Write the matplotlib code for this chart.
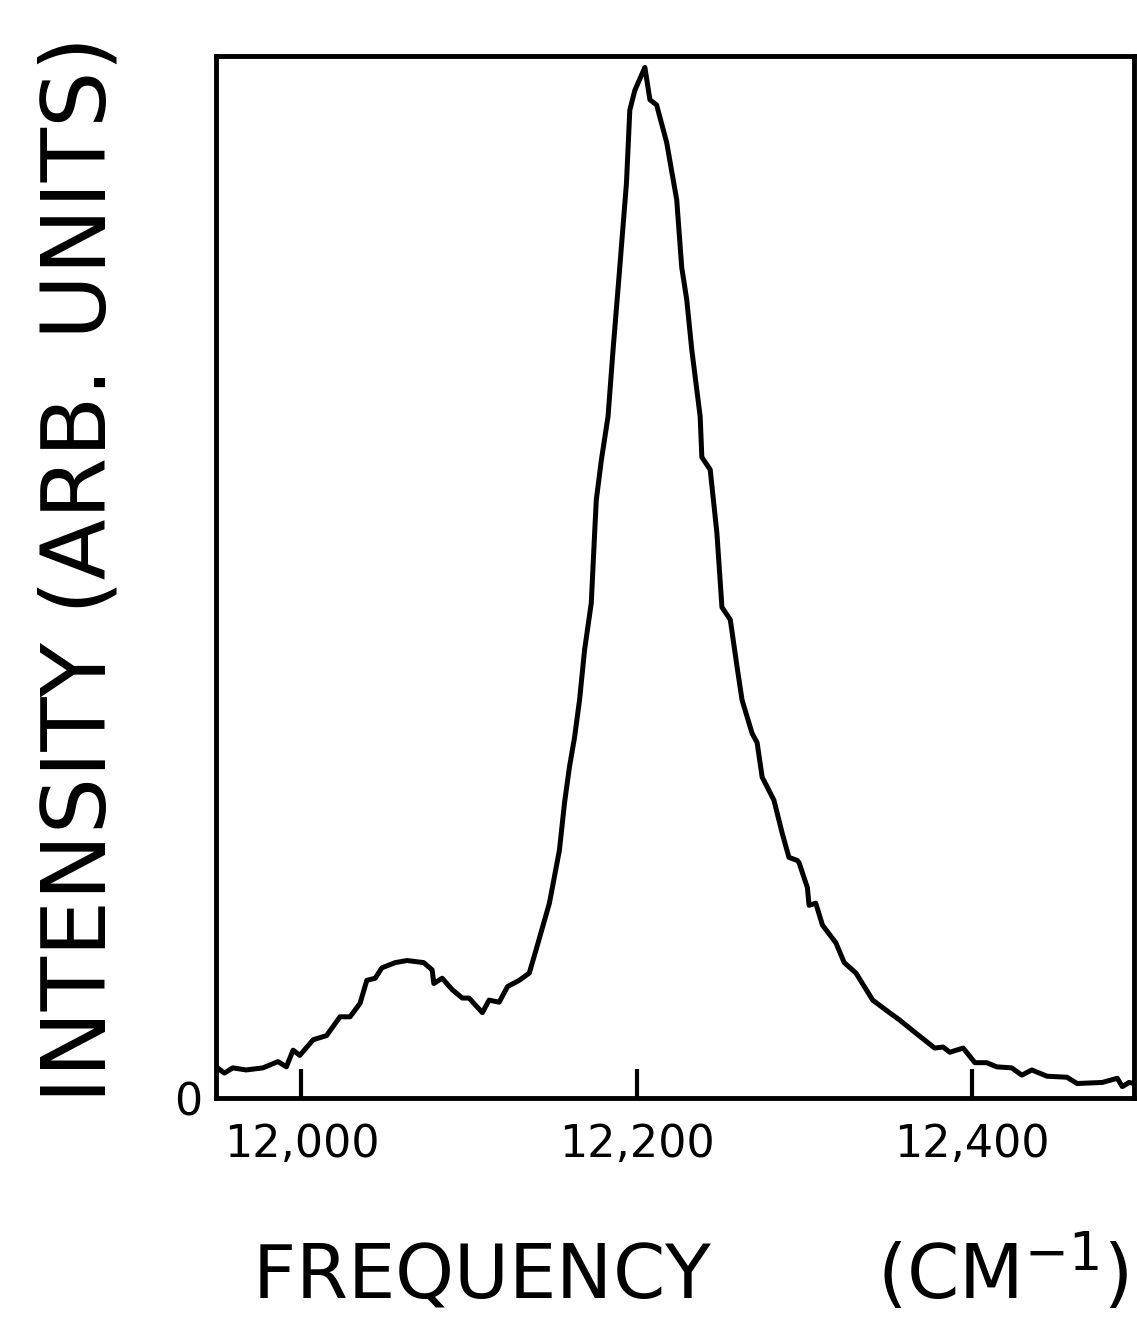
import matplotlib
matplotlib.use('Agg')
import matplotlib.pyplot as plt

# espectro (frecuencia en cm^-1, intensidad relativa)
freq = [11949, 11954, 11959, 11967, 11977, 11986, 11991, 11995, 11999, 12007,
        12015, 12023, 12029, 12035, 12039, 12044, 12048, 12056, 12063, 12073,
        12078, 12079, 12084, 12090, 12096, 12100, 12108, 12112, 12118, 12123,
        12130, 12136, 12140, 12148, 12154, 12157, 12160, 12163, 12166, 12169,
        12173, 12175, 12176, 12179, 12183, 12186, 12190, 12194, 12196, 12199,
        12205, 12208, 12212, 12218, 12224, 12227, 12230, 12233, 12238, 12239,
        12244, 12248, 12251, 12256, 12260, 12263, 12269, 12272, 12275, 12282,
        12287, 12291, 12296, 12297, 12302, 12303, 12307, 12311, 12319, 12324,
        12331, 12341, 12351, 12357, 12367, 12378, 12383, 12387, 12395, 12402,
        12409, 12415, 12424, 12430, 12436, 12445, 12457, 12463, 12478, 12487,
        12490, 12494, 12497]
intensidad = [0.030, 0.024, 0.029, 0.027, 0.029, 0.035, 0.030, 0.046, 0.041, 0.056,
              0.060, 0.078, 0.078, 0.091, 0.113, 0.115, 0.125, 0.130, 0.132, 0.130,
              0.123, 0.110, 0.115, 0.104, 0.096, 0.096, 0.082, 0.094, 0.092, 0.107,
              0.113, 0.120, 0.142, 0.187, 0.238, 0.283, 0.318, 0.346, 0.382, 0.430,
              0.475, 0.542, 0.574, 0.612, 0.654, 0.718, 0.797, 0.878, 0.948, 0.967,
              0.989, 0.958, 0.953, 0.917, 0.862, 0.797, 0.766, 0.718, 0.654, 0.615,
              0.603, 0.542, 0.471, 0.459, 0.414, 0.382, 0.350, 0.341, 0.308, 0.286,
              0.254, 0.231, 0.228, 0.226, 0.202, 0.185, 0.187, 0.166, 0.149, 0.130,
              0.120, 0.094, 0.082, 0.075, 0.062, 0.048, 0.049, 0.044, 0.048, 0.034,
              0.034, 0.030, 0.029, 0.022, 0.027, 0.021, 0.020, 0.014, 0.015, 0.019,
              0.011, 0.015, 0.014]

ticks_x = [12000, 12200, 12400]
etiquetas_x = ['12,000', '12,200', '12,400']

plt.rcParams['font.family'] = ['DejaVu Sans']

fig = plt.figure(figsize=(11.37, 13.23), dpi=100)
ax = fig.add_axes([0.190, 0.170, 0.8074, 0.7877])

ax.plot(freq, intensidad, color='black', linewidth=3.6, solid_joinstyle='round')

ax.set_xlim(11949, 12497)
ax.set_ylim(0, 1.0)

for lado in ax.spines.values():
    lado.set_linewidth(3.5)

ax.set_xticks(ticks_x)
ax.set_xticklabels(etiquetas_x)
ax.tick_params(axis='x', direction='in', length=21, width=3, pad=18, labelsize=32)
ax.set_yticks([0])
ax.set_yticklabels(['0'])
ax.tick_params(axis='y', length=0, pad=10, labelsize=32)

fig.text(0.0932, 0.166, 'INTENSITY (ARB. UNITS)', rotation=90, rotation_mode='anchor',
         ha='left', va='baseline', fontsize=64)
fig.text(0.607, 0.018, 'FREQUENCY       (CM$^{\\mathregular{-1}}$)',
         ha='center', va='baseline', fontsize=54)

fig.savefig('out.png', dpi=100)
